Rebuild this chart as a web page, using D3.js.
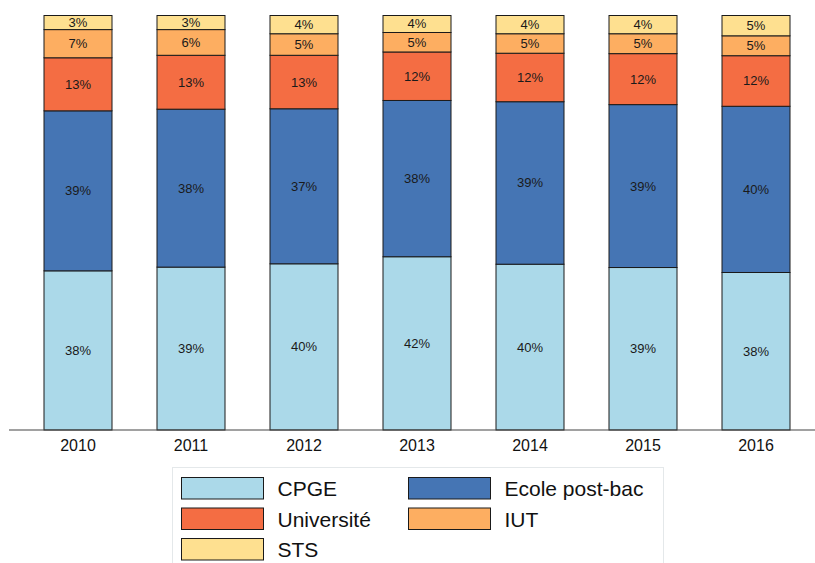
<!DOCTYPE html>
<html>
<head>
<meta charset="utf-8">
<script src="https://cdn.jsdelivr.net/npm/d3@7"></script>
<style>
  html, body { margin: 0; padding: 0; background: #fff; }
  svg { display: block; font-family: "Liberation Sans", Arial, Helvetica, sans-serif; }
</style>
</head>
<body>
<svg id="chart" width="815" height="563"></svg>
<script>
// ---- Data ----
const years = ["2010", "2011", "2012", "2013", "2014", "2015", "2016"];
const seriesNames = ["CPGE", "Ecole post-bac", "Université", "IUT", "STS"];
const cpge      = [38.4, 39.3, 40.1, 41.8, 40.0, 39.2, 38.0];
const ecole     = [38.6, 38.1, 37.4, 37.7, 39.2, 39.3, 40.1];
const universite= [12.8, 13.0, 12.9, 11.7, 11.7, 12.3, 12.2];
const iut       = [ 6.8,  6.2,  5.2,  4.7,  4.7,  4.8,  4.8];
const sts       = [ 3.4,  3.4,  4.4,  4.1,  4.4,  4.4,  4.9];
const colors = ["#abd9e9", "#4575b4", "#f46d43", "#fdae61", "#fee090"];

// ---- Build table ----
const seriesValues = [cpge, ecole, universite, iut, sts];
const table = years.map((y, i) => {
  const row = { year: y };
  seriesNames.forEach((s, k) => row[s] = seriesValues[k][i]);
  return row;
});
const stacked = d3.stack().keys(seriesNames)(table);

const svg = d3.select("#chart");

const x = d3.scaleBand().domain(years).range([21.5, 812.5])
  .paddingInner(45 / 113).paddingOuter(45 / 113 / 2);
const y = d3.scaleLinear().domain([0, 100]).range([430, 15.5]);

const color = d3.scaleOrdinal().domain(seriesNames).range(colors);

// bars
const groups = svg.append("g").selectAll("g").data(stacked).join("g")
  .attr("fill", d => color(d.key));

groups.selectAll("rect").data(d => d).join("rect")
  .attr("x", d => x(d.data.year))
  .attr("y", d => y(d[1]))
  .attr("width", x.bandwidth())
  .attr("height", d => y(d[0]) - y(d[1]))
  .attr("stroke", "#1a1a1a")
  .attr("stroke-width", 1);

// labels
const fmt = v => Math.round(v) + "%";
groups.selectAll("text").data(d => d).join("text")
  .attr("x", d => x(d.data.year) + x.bandwidth() / 2)
  .attr("y", d => (y(d[0]) + y(d[1])) / 2)
  .attr("text-anchor", "middle")
  .attr("dominant-baseline", "central")
  .attr("fill", "#1a1a1a")
  .attr("font-size", 13)
  .text(d => fmt(d[1] - d[0]));

// x axis
const xAxis = svg.append("g").attr("transform", "translate(0,430)")
  .call(d3.axisBottom(x).tickSize(0).tickPadding(10));
xAxis.select(".domain").remove();
xAxis.selectAll("text").attr("font-size", 16).attr("fill", "#111")
  .attr("font-family", "Liberation Sans, Arial, sans-serif");
svg.append("line").attr("x1", 9).attr("x2", 815).attr("y1", 430).attr("y2", 430)
  .attr("stroke", "#444").attr("stroke-width", 1.2);

// legend
const legend = svg.append("g");
legend.append("rect")
  .attr("x", 172.5).attr("y", 467.5).attr("width", 491).attr("height", 110)
  .attr("fill", "#fff").attr("stroke", "#e4e8ea").attr("stroke-width", 1);
const colX = [181.5, 408.5];
const rowY = [477.5, 508, 538.5];
seriesNames.forEach((s, k) => {
  const cx = colX[k % 2], cy = rowY[Math.floor(k / 2)];
  legend.append("rect").attr("x", cx).attr("y", cy).attr("width", 82).attr("height", 21.5)
    .attr("fill", color(s)).attr("stroke", "#1a1a1a").attr("stroke-width", 1);
  legend.append("text").attr("x", cx + 96).attr("y", cy + 11)
    .attr("dominant-baseline", "central").attr("font-size", 21).attr("fill", "#111")
    .text(s);
});
</script>
</body>
</html>
